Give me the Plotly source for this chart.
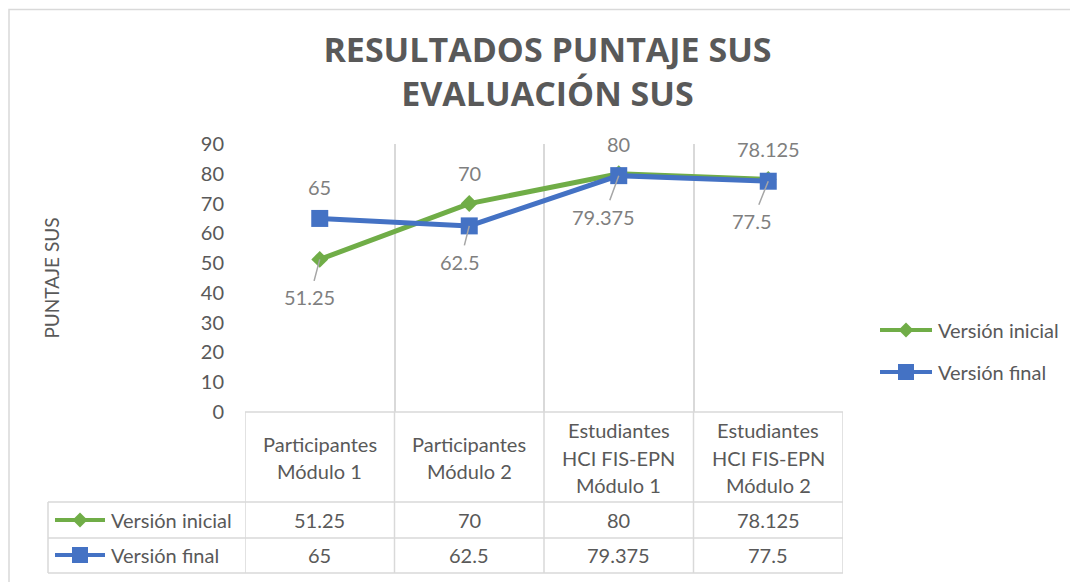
import plotly.graph_objects as go

# ---------------- data ----------------
categories = [
    "Participantes<br>Módulo 1",
    "Participantes<br>Módulo 2",
    "Estudiantes<br>HCI FIS-EPN<br>Módulo 1",
    "Estudiantes<br>HCI FIS-EPN<br>Módulo 2",
]
series_names = ["Versión inicial", "Versión final"]
version_inicial = [51.25, 70, 80, 78.125]
version_final = [65, 62.5, 79.375, 77.5]
y_ticks = [0, 10, 20, 30, 40, 50, 60, 70, 80, 90]
title_text = "RESULTADOS PUNTAJE SUS<br>EVALUACIÓN SUS"
y_title = "PUNTAJE SUS"

# ---------------- styling ----------------
W, H = 1078, 582
OFF = 8  # page body margin offset
FONT = "Lato"
TXT = "#595959"
LBL = "#7f7f7f"
GRID = "#d9d9d9"
GREEN = "#70ad47"
BLUE = "#4472c4"
FS = 20

def px(x):
    return (x - OFF) / W

def py(y):
    return 1 - (y - OFF) / H

# label placement per point: (xshift/ax, yshift/ay, leader line)
green_label_style = [(-10, 38, True), (0, -31, False), (0, -30, False), (0, -30, False)]
blue_label_style = [(0, -31, False), (-9, 36, True), (-15, 41, True), (-16, 40, True)]

fig = go.Figure()
series = [
    (series_names[0], version_inicial, GREEN, "diamond", 13, green_label_style),
    (series_names[1], version_final, BLUE, "square", 17, blue_label_style),
]
for name, vals, col, sym, msize, _ in series:
    fig.add_trace(go.Scatter(
        x=categories, y=vals, name=name, mode="lines+markers",
        line=dict(color=col, width=5),
        marker=dict(symbol=sym, size=msize, color=col, line=dict(width=0)),
        showlegend=False, hoverinfo="x+y+name",
    ))

annotations = []
shapes = []

# data labels
for name, vals, col, sym, msize, styles in series:
    for c, v, (dx, dy, lead) in zip(categories, vals, styles):
        if lead:
            annotations.append(dict(
                x=c, y=v, xref="x", yref="y", text=f"{v:g}",
                showarrow=True, arrowhead=0, arrowwidth=1.5, arrowcolor="#a6a6a6",
                ax=dx, ay=dy, borderpad=4,
                font=dict(family=FONT, size=FS, color=LBL),
            ))
        else:
            annotations.append(dict(
                x=c, y=v, xref="x", yref="y", text=f"{v:g}", showarrow=False,
                xshift=dx, yshift=-dy, xanchor="center", yanchor="middle",
                font=dict(family=FONT, size=FS, color=LBL),
            ))

# ---------------- data table ----------------
row_y = [520, 555]
# header (category names)
for c in categories:
    lines = c.split("<br>")
    n = len(lines)
    for j, ln in enumerate(lines):
        annotations.append(dict(
            x=c, xref="x", y=py(457.5 + (j - (n - 1) / 2) * 27.5), yref="paper",
            xanchor="center", yanchor="middle",
            text=ln, showarrow=False, font=dict(family=FONT, size=FS, color=TXT),
        ))
# rows
for (name, vals, col, sym, msize, _), ry in zip(series, row_y):
    annotations.append(dict(
        x=px(109), xref="paper", y=py(ry), yref="paper", xanchor="left", yanchor="middle",
        text=name, showarrow=False, font=dict(family=FONT, size=FS, color=TXT),
    ))
    for c, v in zip(categories, vals):
        annotations.append(dict(
            x=c, xref="x", y=py(ry), yref="paper", text=f"{v:g}",
            xanchor="center", yanchor="middle",
            showarrow=False, font=dict(family=FONT, size=FS, color=TXT),
        ))

line_style = dict(color=GRID, width=1.5)
# horizontal table lines
shapes.append(dict(type="line", xref="x", yref="paper", x0=-0.5, x1=3.5,
                   y0=py(412), y1=py(412), line=line_style, layer="below"))
for yy in [502, 538, 573]:
    shapes.append(dict(type="line", xref="paper", yref="paper", x0=px(48), x1=px(843),
                       y0=py(yy), y1=py(yy), line=line_style, layer="below"))
# vertical table lines
for k in range(len(categories) + 1):
    shapes.append(dict(type="line", xref="x", yref="paper", x0=k - 0.5, x1=k - 0.5,
                       y0=py(412), y1=py(573), line=line_style, layer="below"))
shapes.append(dict(type="line", xref="paper", yref="paper", x0=px(48), x1=px(48),
                   y0=py(502), y1=py(573), line=line_style, layer="below"))


def key(cx, cy, col, sym, half_len):
    out = [dict(type="line", xref="paper", yref="paper",
                x0=px(cx - half_len), x1=px(cx + half_len), y0=py(cy), y1=py(cy),
                line=dict(color=col, width=4))]
    if sym == "diamond":
        r = 7.5
        path = (f"M{px(cx)},{py(cy - r)} L{px(cx + r)},{py(cy)} "
                f"L{px(cx)},{py(cy + r)} L{px(cx - r)},{py(cy)} Z")
        out.append(dict(type="path", xref="paper", yref="paper", path=path,
                        fillcolor=col, line=dict(width=0)))
    else:
        r = 8
        out.append(dict(type="rect", xref="paper", yref="paper",
                        x0=px(cx - r), x1=px(cx + r), y0=py(cy - r), y1=py(cy + r),
                        fillcolor=col, line=dict(width=0)))
    return out


# legend keys in table
for (name, vals, col, sym, msize, _), ry in zip(series, row_y):
    shapes += key(80, ry, col, sym, 25)

# right-side legend
for (name, vals, col, sym, msize, _), ly in zip(series, [330, 372]):
    shapes += key(906, ly, col, sym, 26)
    annotations.append(dict(
        x=px(936), xref="paper", y=py(ly), yref="paper", xanchor="left", yanchor="middle",
        text=name, showarrow=False, font=dict(family=FONT, size=FS, color=TXT),
    ))

# chart border
shapes.append(dict(type="rect", xref="paper", yref="paper", x0=px(9), x1=1.05,
                   y0=-0.05, y1=py(9.5), line=dict(color=GRID, width=1.5),
                   fillcolor="rgba(0,0,0,0)", layer="below"))

fig.update_layout(
    width=W, height=H,
    margin=dict(l=0, r=0, t=0, b=0, pad=0, autoexpand=False),
    paper_bgcolor="white", plot_bgcolor="white",
    font=dict(family=FONT, color=TXT, size=FS),
    title=dict(text=title_text, x=px(547.5), xanchor="center", xref="paper",
               y=py(62), yanchor="middle", yref="paper", automargin=False,
               font=dict(family="Open Sans", size=34, color=TXT, weight="bold")),
    xaxis=dict(
        domain=[px(245), px(843)], type="category", range=[-0.5, 3.5],
        tickson="boundaries", showgrid=True, gridcolor=GRID, gridwidth=1.5,
        showticklabels=False, ticks="", showline=False, zeroline=False,
        fixedrange=True, automargin=False,
    ),
    yaxis=dict(
        domain=[py(412), py(144)], range=[0, 90], tickvals=y_ticks,
        showgrid=False, zeroline=False, showline=False, ticks="",
        ticklabelstandoff=20, automargin=False,
        tickfont=dict(family=FONT, size=FS, color=TXT),
        title=dict(text=y_title, standoff=136,
                   font=dict(family=FONT, size=FS - 1, color=TXT)),
        fixedrange=True,
    ),
    annotations=annotations,
    shapes=shapes,
    showlegend=False,
)

fig.write_html("out.html")
